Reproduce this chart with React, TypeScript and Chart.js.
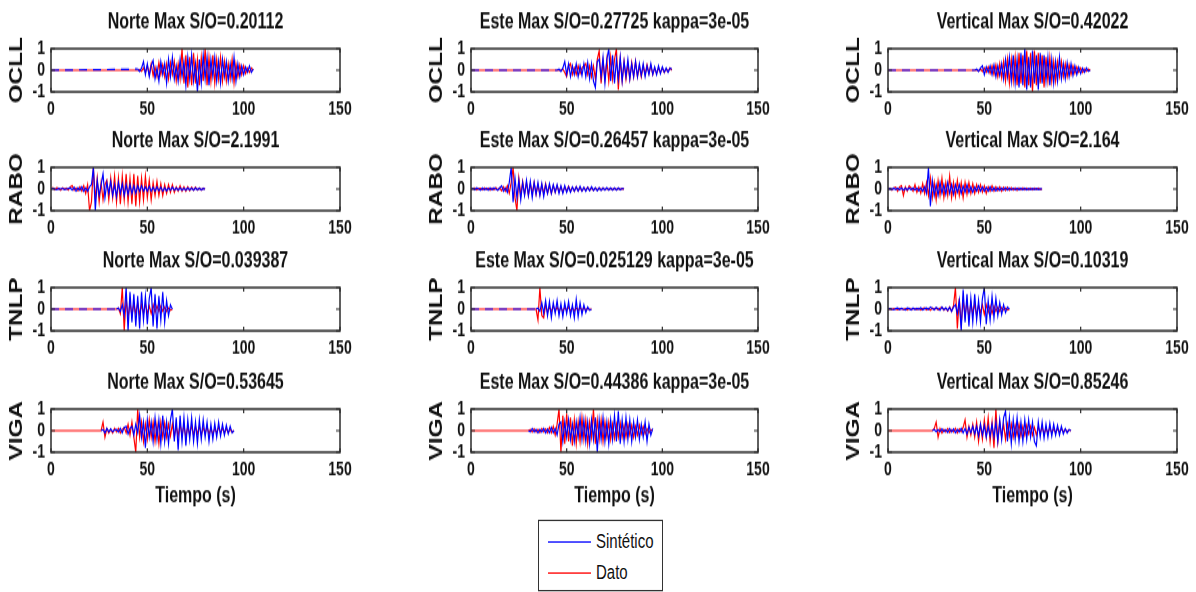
import React, { useEffect, useRef } from "react";
import { Chart, registerables } from "chart.js";

Chart.register(...registerables);

// ---------- DATA (1-s samples starting at the given start time) ----------
const stations = ["OCLL", "RABO", "TNLP", "VIGA"];
const components = ["Norte", "Este", "Vertical"];
const titles = [
  ["Norte Max S/O=0.20112", "Este Max S/O=0.27725 kappa=3e-05", "Vertical Max S/O=0.42022"],
  ["Norte Max S/O=2.1991", "Este Max S/O=0.26457 kappa=3e-05", "Vertical Max S/O=2.164"],
  ["Norte Max S/O=0.039387", "Este Max S/O=0.025129 kappa=3e-05", "Vertical Max S/O=0.10319"],
  ["Norte Max S/O=0.53645", "Este Max S/O=0.44386 kappa=3e-05", "Vertical Max S/O=0.85246"],
];
const xTicks = [0, 50, 100, 150];
const yTicks = [-1, 0, 1];
const xLabel = "Tiempo (s)";
const legendLabels = ["Sintético", "Dato"];

// OCLL (start 45 s)
const ocllStart = 45;
const norteOcllSin = [0.05, -0.05, 0.1, 0.4, -0.2, 0.3, -0.3, 0.2, 0.45, -0.4, 0.1, -0.5, 0.4, -0.2, 0.3, -0.6, 0.5, -0.3, 0.6, -0.4, 0.2, -0.5, 0.5, -0.3, 0.4, -0.7, 0.6, -0.4, 0.7, -0.5, 0.3, -1.0, 0.5, -0.6, 0.7, -0.4, 0.6, -0.7, 0.5, -0.3, 0.6, -0.5, 0.4, -0.6, 0.5, -0.3, 0.4, -0.5, 0.3, -0.4, 0.6, -0.5, 0.3, -0.3, 0.2, -0.2, 0.15, -0.1, 0.2, -0.1, 0.05];
const norteOcllDat = [0, 0.02, -0.05, 0.1, -0.1, 0.2, -0.2, 0.3, -0.25, 0.15, -0.3, 0.35, -0.2, 0.25, -0.3, 0.3, -0.4, 0.35, -0.2, 0.4, -0.5, 0.3, -0.4, 1.0, -0.6, 0.7, -0.8, 0.6, -0.7, 0.8, -0.6, 0.5, -0.7, 0.6, -0.5, 1.0, -0.7, 0.6, -0.5, 0.7, -0.6, 0.5, -0.4, 0.6, -0.5, 0.4, -0.5, 0.3, -0.4, 0.5, -0.6, 0.3, -0.3, 0.25, -0.2, 0.2, -0.15, 0.1, -0.1, 0.1, 0];
const esteOcllSin = [0, 0.05, -0.05, 0.1, 0.4, -0.2, 0.3, -0.3, 0.2, -0.2, 0.3, -0.3, 0.2, -0.25, 0.3, -0.3, 0.35, -0.4, 0.3, -0.5, -0.8, 0.4, 0.5, -0.3, 0.6, -0.6, 0.5, 1.0, -0.5, 0.7, -0.6, 0.5, -0.4, 0.6, -0.5, 0.4, -0.3, 0.5, -0.4, 0.3, -0.3, 0.4, -0.3, 0.3, -0.25, 0.3, -0.3, 0.2, -0.2, 0.3, -0.2, 0.15, -0.2, 0.2, -0.15, 0.15, -0.1, 0.1, -0.1, 0.1, 0.05];
const esteOcllDat = [0, 0.02, -0.02, 0.05, -0.1, -0.3, 0.2, 0.3, -0.2, 0.1, -0.2, 0.2, -0.15, 0.1, 0.2, 0.3, -0.2, 0.2, -0.3, 0.2, -0.4, 0.5, 0.9, -0.6, 0.4, -0.4, 0.5, -0.5, 0.6, -0.4, 0.5, 1.0, -0.9, 0.5, -0.5, 0.4, -0.4, 0.3, -0.4, 0.35, -0.3, 0.4, -0.3, 0.2, -0.3, 0.2, -0.2, 0.25, -0.15, 0.2, -0.2, 0.1, -0.15, 0.1, -0.1, 0.1, -0.1, 0.05, -0.05, 0.1, 0];
const vertOcllSin = [0, 0.05, -0.05, 0.1, 0.2, -0.2, 0.15, -0.1, 0.2, -0.2, 0.25, -0.3, 0.2, -0.25, 0.3, -0.4, 0.5, -0.3, 0.6, -0.5, 0.7, -0.6, 0.5, -0.8, 0.8, -0.7, 1.0, -0.9, 0.6, -0.8, 0.9, -0.6, 0.7, -0.9, 0.8, -0.6, 0.7, -0.5, 0.6, -0.7, 0.5, -0.6, 0.4, -0.5, 0.6, -0.4, 0.3, -0.4, 0.35, -0.3, 0.3, -0.25, 0.2, -0.2, 0.15, -0.15, 0.1, -0.1, 0.1, -0.05, 0];
const vertOcllDat = [0, 0.02, -0.03, 0.05, -0.05, 0.1, -0.1, 0.15, -0.15, 0.2, -0.2, 0.25, -0.3, 0.3, -0.35, 0.4, -0.5, 0.5, -0.6, 0.5, -0.5, 0.6, -0.7, 0.8, -0.6, 0.7, -0.8, 0.9, -0.7, 0.8, -1.0, 0.9, -0.7, 0.8, -0.6, 0.7, -0.8, 0.6, -0.5, 0.6, -0.5, 0.4, -0.5, 0.4, -0.3, 0.4, -0.3, 0.3, -0.3, 0.25, -0.2, 0.2, -0.15, 0.15, -0.1, 0.1, -0.1, 0.05, -0.05, 0.05, 0];

// RABO (start 0 s)
const raboStart = 0;
const norteRaboSin = [0, 0.03, 0, -0.03, 0.02, 0, 0.03, -0.02, 0, 0.02, 0.05, -0.05, 0.08, -0.1, 0.05, -0.05, 0.1, -0.1, 0.05, -0.1, 0.1, 0.2, 1.0, -1.0, 0.4, -0.3, 0.2, 0.7, -0.4, 0.3, -0.2, 0.35, -0.3, 0.2, -0.35, 0.3, -0.2, 0.25, -0.3, 0.2, -0.25, 0.2, -0.2, 0.15, -0.2, 0.15, -0.1, 0.15, -0.1, 0.1, -0.1, 0.12, -0.1, 0.08, -0.1, 0.1, -0.08, 0.08, -0.1, 0.05, -0.08, 0.05, -0.05, 0.08, -0.05, 0.05, -0.05, 0.05, -0.05, 0.03, -0.05, 0.05, -0.03, 0.03, -0.05, 0.05, -0.03, 0.03, -0.03, 0.02, 0];
const norteRaboDat = [0, 0.05, -0.03, 0.05, 0.02, -0.05, 0.05, 0, 0.03, -0.05, 0.1, 0.15, -0.05, 0.05, -0.08, 0.1, -0.1, 0.15, -0.2, 0.2, -1.0, -0.6, 1.0, -0.5, 0.5, -0.6, 0.3, -0.5, 0.2, 0.4, -0.5, 0.5, -0.4, 0.6, -0.6, 0.5, -0.7, 0.6, -0.5, 0.7, -0.6, 0.5, -0.7, 0.7, -0.8, 0.6, -0.6, 0.5, -0.5, 0.6, -0.4, 0.4, -0.5, 0.3, -0.3, 0.35, -0.3, 0.25, -0.3, 0.2, -0.2, 0.2, -0.15, 0.2, -0.15, 0.1, -0.1, 0.15, -0.1, 0.1, -0.1, 0.1, -0.08, 0.08, -0.05, 0.08, -0.05, 0.05, -0.05, 0.03, 0];
const esteRaboSin = [0, 0.03, -0.03, 0.05, 0, -0.05, 0.05, -0.03, 0.03, -0.05, 0.05, -0.03, 0.05, 0, -0.05, 0.05, 0.15, -0.1, 0.05, -0.15, 0.3, 1.0, -0.6, 0.5, -0.4, 0.4, -0.5, 0.3, -0.3, 0.4, -0.3, 0.35, -0.4, 0.3, -0.25, 0.3, -0.3, 0.25, -0.35, 0.2, -0.2, 0.25, -0.2, 0.2, -0.15, 0.2, -0.2, 0.15, -0.2, 0.15, -0.15, 0.1, -0.15, 0.1, -0.1, 0.1, -0.1, 0.12, -0.1, 0.08, -0.1, 0.08, -0.08, 0.1, -0.06, 0.06, -0.08, 0.05, -0.06, 0.05, -0.05, 0.06, -0.04, 0.05, -0.05, 0.04, -0.04, 0.05, -0.03, 0.03, 0];
const esteRaboDat = [0, 0.02, 0.04, -0.03, 0.02, 0.03, -0.04, 0.05, -0.02, 0.03, -0.05, 0.04, -0.03, 0.06, -0.04, 0.05, -0.08, 0.1, -0.1, 0.15, -0.2, 0.3, 1.0, -0.4, -1.0, 0.5, -0.3, 0.35, -0.25, 0.3, -0.3, 0.25, -0.2, 0.3, -0.25, 0.2, -0.25, 0.2, -0.2, 0.25, -0.2, 0.15, -0.2, 0.15, -0.15, 0.15, -0.12, 0.1, -0.15, 0.1, -0.1, 0.12, -0.1, 0.08, -0.1, 0.1, -0.08, 0.06, -0.08, 0.06, -0.06, 0.08, -0.05, 0.05, -0.06, 0.05, -0.04, 0.05, -0.05, 0.04, -0.04, 0.04, -0.03, 0.04, -0.03, 0.03, -0.03, 0.03, -0.02, 0.02, 0];
const vertRaboSin = [0, 0.02, -0.02, 0.03, -0.02, 0.03, -0.03, 0.05, -0.05, 0.03, -0.03, 0.05, -0.03, 0.05, -0.05, 0.05, -0.08, 0.05, -0.1, 0.1, -0.2, 1.0, -0.8, 0.4, -0.3, 0.2, -0.3, 0.3, -0.2, 0.2, -0.25, 0.3, -0.2, 0.2, -0.25, 0.2, -0.15, 0.2, -0.2, 0.15, -0.15, 0.2, -0.15, 0.1, -0.15, 0.1, -0.1, 0.15, -0.1, 0.1, -0.1, 0.08, -0.1, 0.1, -0.08, 0.06, -0.08, 0.05, -0.06, 0.05, -0.05, 0.06, -0.04, 0.05, -0.04, 0.04, -0.04, 0.03, -0.04, 0.03, -0.03, 0.03, -0.03, 0.02, -0.02, 0.02, -0.02, 0.02, -0.02, 0.01, 0];
const vertRaboDat = [0, 0.03, -0.05, 0.05, 0.08, -0.1, 0.1, 0.15, -0.3, 0.1, -0.1, 0.15, 0.05, -0.1, 0.2, -0.15, 0.1, -0.2, 0.25, -0.2, 0.3, -0.3, 0.5, -0.4, 0.3, -0.5, 0.4, -0.3, 0.5, -0.4, 0.3, -0.3, 0.6, -0.4, 0.3, -0.35, 0.4, -0.3, 0.3, -0.4, 0.3, -0.25, 0.3, -0.2, 0.25, -0.2, 0.2, -0.15, 0.2, -0.15, 0.15, -0.2, 0.1, -0.1, 0.15, -0.1, 0.1, -0.08, 0.1, -0.1, 0.08, -0.06, 0.08, -0.05, 0.06, -0.05, 0.05, -0.06, 0.04, -0.04, 0.05, -0.03, 0.04, -0.04, 0.03, -0.03, 0.03, -0.02, 0.03, -0.02, 0];

// TNLP (start 34 s for Norte/Este, 0 s for Vertical)
const tnlpStart = 34;
const norteTnlpSin = [0, 0.05, -0.1, 0.2, -0.3, 1.0, -1.0, 0.8, -0.6, 0.7, -0.8, 0.6, -0.9, 0.8, -0.5, 0.6, -0.7, 0.5, 1.0, -0.8, 0.7, -0.9, 0.6, -0.5, 0.8, -0.6, 0.4, -0.3, 0.2, 0];
const norteTnlpDat = [0, 0.05, -0.2, 1.0, -1.0, 0.5, -0.4, 0.3, -0.3, 0.25, -0.2, 0.3, -0.25, 0.2, -0.2, 0.25, -0.2, 0.15, -0.2, 0.2, -0.15, 0.15, -0.1, 0.15, -0.1, 0.1, -0.1, 0.05, -0.05, 0];
const esteTnlpSin = [0, 0.05, -0.1, 0.3, -0.2, 0.4, -0.3, 0.35, -0.4, 0.3, -0.2, 0.4, -0.3, 0.25, -0.35, 0.3, -0.2, 0.35, -0.3, 0.2, -0.4, 0.45, -0.35, 0.3, -0.25, 0.2, -0.15, 0.1, -0.05, 0];
const esteTnlpDat = [0, -0.5, 1.0, -0.3, -0.4, 0.2, -0.15, 0.1, -0.1, 0.15, -0.1, 0.1, -0.1, 0.08, -0.1, 0.08, -0.06, 0.1, -0.08, 0.05, -0.08, 0.06, -0.05, 0.08, -0.05, 0.05, -0.04, 0.03, -0.02, 0];
const vertTnlpStart = 0;
const vertTnlpSin = [0, 0.03, 0, -0.03, 0.02, 0.05, -0.02, 0.04, 0, -0.03, 0.05, 0.02, -0.03, 0.05, -0.02, 0.04, 0, 0.06, -0.03, 0.02, 0.05, -0.02, 0.1, 0.03, -0.03, 0.08, 0.02, -0.05, 0.1, -0.03, 0.06, -0.05, 0.08, -0.1, 0.1, 0.2, -0.2, 0.4, -1.0, 0.9, -0.6, 0.7, -0.8, 0.5, -0.6, 0.7, -0.5, 0.4, -0.6, 0.5, 1.0, -0.7, 0.4, -0.5, 0.6, -0.4, 0.5, -0.3, 0.3, -0.25, 0.2, -0.15, 0.1, 0];
const vertTnlpDat = [0, 0.02, -0.02, 0.03, 0, -0.03, 0.02, 0.03, -0.02, 0.02, -0.03, 0.03, -0.02, 0.02, 0.03, -0.02, 0.03, -0.03, 0.02, 0.05, -0.03, 0.03, -0.05, 0.05, 0, 0.05, -0.03, 0.05, 0.08, -0.05, 0.05, -0.08, 0.1, -0.1, 0.15, 1.0, -0.9, 0.5, -0.7, 0.4, -0.3, 0.35, -0.4, 0.3, -0.2, 0.25, -0.3, 0.2, -0.15, 0.2, -0.25, 0.2, -0.15, 0.15, -0.2, 0.15, -0.1, 0.1, -0.1, 0.08, -0.05, 0.05, -0.03, 0];

// VIGA
const norteVigaStart = 26;
const norteVigaSin = [0, 0.05, -0.1, 0.1, -0.05, 0.08, -0.05, 0.03, 0.05, -0.05, 0.1, -0.1, 0.15, 0.2, -0.15, 0.1, 0.2, -0.2, 0.3, -0.1, 0.7, -0.3, 0.4, -0.8, 0.5, -0.3, 0.4, -0.5, 0.6, -0.4, 0.5, -0.6, 0.7, -0.5, 0.4, -0.6, 0.5, 1.0, -0.5, 0.6, -0.9, 0.7, -0.5, 0.6, -0.7, 0.5, -0.4, 0.6, -0.5, 0.4, -0.6, 0.5, -0.4, 0.5, -0.3, 0.4, -0.5, 0.3, -0.4, 0.35, -0.3, 0.4, -0.25, 0.3, -0.2, 0.25, -0.15, 0.2, -0.1, 0];
const norteVigaDat = [0, 0.4, -0.3, 0.1, -0.1, 0.05, -0.1, 0.1, -0.05, 0.1, -0.1, 0.05, 0.15, -0.1, 0.3, -0.2, 0.4, -0.3, -1.0, 1.0, -0.3, 0.4, -0.5, 0.3, -0.4, 0.5, -0.3, 0.4, -0.5, 0.3, -0.6, 0.4, -0.3, 0.35, -0.3, 0.3, -0.25, 0.3, -0.3, 0.2, -0.25, 0.3, -0.2, 0.25, -0.3, 0.2, -0.2, 0.25, -0.2, 0.2, -0.15, 0.2, -0.2, 0.15, -0.15, 0.2, -0.15, 0.1, -0.15, 0.1, -0.1, 0.15, -0.1, 0.1, -0.1, 0.08, -0.08, 0.05, -0.05, 0];
const esteVigaStart = 30;
const esteVigaSin = [0, -0.05, 0.1, -0.05, 0.05, -0.1, 0.05, -0.05, 0.1, -0.1, 0.08, -0.1, 0.15, -0.1, 0.1, -0.2, 0.3, 0.4, -0.5, 0.4, -0.3, 0.5, -0.4, 0.3, -0.5, 0.4, -0.3, 0.6, -0.4, 0.5, -0.5, 0.4, -0.6, 0.5, -0.4, 0.6, -1.0, 0.5, -0.4, 0.6, -0.5, 0.4, -0.6, 0.5, -0.4, 0.7, -0.5, 0.9, -0.6, 0.5, -0.5, 0.6, -0.4, 0.5, -0.5, 0.4, -0.3, 0.5, -0.4, 0.3, -0.3, 0.4, -0.5, 0.3, -0.2, 0.1];
const esteVigaDat = [0, 0.05, -0.05, 0.08, -0.05, 0.05, -0.08, 0.1, -0.05, 0.08, -0.1, 0.15, -0.1, 0.2, -0.2, 0.3, 1.0, -1.0, 0.7, -0.6, 0.8, -0.5, 0.6, -0.7, 0.5, -0.6, 0.4, -0.5, 0.6, -0.4, 0.5, -0.6, 0.4, -0.3, 1.0, -0.6, 0.5, -0.4, 0.5, -0.5, 0.4, -0.3, 0.4, -0.4, 0.3, -0.35, 0.3, -0.3, 0.35, -0.3, 0.25, -0.3, 0.3, -0.2, 0.25, -0.3, 0.2, -0.2, 0.25, -0.15, 0.2, -0.15, 0.1, -0.1, 0.05, 0];
const vertVigaStart = 23;
const vertVigaSin = [0, 0.05, -0.05, 0.05, -0.05, 0.08, -0.05, 0.05, -0.08, 0.1, -0.05, 0.08, -0.1, 0.05, -0.05, 0.1, -0.1, 0.1, -0.15, 0.15, -0.1, 0.2, -0.15, 0.2, -0.25, 0.3, -0.2, 0.25, -0.3, 0.2, -0.25, 0.3, -0.3, 0.4, -0.5, 0.5, -0.4, 0.6, 0.9, -0.5, 0.6, -0.6, 0.5, -0.4, 0.6, -0.5, 0.4, -0.5, 0.5, -0.4, 0.5, -0.3, 0.4, -0.5, -0.7, 0.4, -0.3, 0.4, -0.35, 0.3, -0.3, 0.35, -0.25, 0.3, -0.2, 0.25, -0.2, 0.2, -0.15, 0.1, -0.1, 0.05, 0];
const vertVigaDat = [0, 0.1, 0.4, -0.3, 0.1, -0.1, 0.05, -0.05, 0.1, -0.08, 0.05, -0.05, 0.1, -0.1, 0.08, -0.05, 0.15, 0.5, -0.3, 0.2, -0.2, 0.3, -0.3, 0.4, -0.5, 0.3, -0.4, 0.5, -0.3, 0.6, -0.5, 0.4, -0.8, 1.0, -0.5, 0.4, -0.3, 0.3, -0.4, 0.3, -0.25, 0.3, -0.3, 0.25, -0.2, 0.3, -0.25, 0.2, -0.2, 0.25, -0.15, 0.2, -0.2, 0.15, -0.2, 0.15, -0.1, 0.15, -0.15, 0.1, -0.1, 0.12, -0.1, 0.08, -0.1, 0.08, -0.05, 0.08, -0.05, 0.05, -0.05, 0.03, 0];

// ---------- PANEL TABLE ----------
type Trace = { start: number; vals: number[]; lead: "solid" | "dash" | "none" };
type PanelDef = { sin: Trace; dat: Trace };

const panelTraces: PanelDef[][] = [
  [
    { sin: { start: ocllStart, vals: norteOcllSin, lead: "dash" }, dat: { start: ocllStart, vals: norteOcllDat, lead: "solid" } },
    { sin: { start: ocllStart, vals: esteOcllSin, lead: "dash" }, dat: { start: ocllStart, vals: esteOcllDat, lead: "solid" } },
    { sin: { start: ocllStart, vals: vertOcllSin, lead: "dash" }, dat: { start: ocllStart, vals: vertOcllDat, lead: "solid" } },
  ],
  [
    { sin: { start: raboStart, vals: norteRaboSin, lead: "none" }, dat: { start: raboStart, vals: norteRaboDat, lead: "none" } },
    { sin: { start: raboStart, vals: esteRaboSin, lead: "none" }, dat: { start: raboStart, vals: esteRaboDat, lead: "none" } },
    { sin: { start: raboStart, vals: vertRaboSin, lead: "none" }, dat: { start: raboStart, vals: vertRaboDat, lead: "none" } },
  ],
  [
    { sin: { start: tnlpStart, vals: norteTnlpSin, lead: "dash" }, dat: { start: tnlpStart, vals: norteTnlpDat, lead: "solid" } },
    { sin: { start: tnlpStart, vals: esteTnlpSin, lead: "dash" }, dat: { start: tnlpStart, vals: esteTnlpDat, lead: "solid" } },
    { sin: { start: vertTnlpStart, vals: vertTnlpSin, lead: "none" }, dat: { start: vertTnlpStart, vals: vertTnlpDat, lead: "none" } },
  ],
  [
    { sin: { start: norteVigaStart, vals: norteVigaSin, lead: "none" }, dat: { start: norteVigaStart, vals: norteVigaDat, lead: "solid" } },
    { sin: { start: esteVigaStart, vals: esteVigaSin, lead: "none" }, dat: { start: esteVigaStart, vals: esteVigaDat, lead: "solid" } },
    { sin: { start: vertVigaStart, vals: vertVigaSin, lead: "none" }, dat: { start: vertVigaStart, vals: vertVigaDat, lead: "solid" } },
  ],
];

// ---------- LAYOUT ----------
// The reference figure is stretched vertically; everything is laid out in
// unstretched units and the whole figure is scaled by STRETCH on the y axis.
const STRETCH = 1.35;
const FONT = '"Liberation Sans", Arial, sans-serif';
const colLeft = [51, 471, 888];
const colWidth = [289, 287, 289];
const rowTop = [36, 124, 213, 303];
const BOX_H = 32;
const Y_AXIS_W = 51;
const TITLE_H = 35;
const RIGHT_PAD = 18;
const BLUE = "#0000ff";
const RED = "#ff0000";
const INK = "#111";

function toPoints(t: Trace) {
  const pts = t.vals.map((v, i) => ({ x: t.start + i, y: v }));
  if (t.lead !== "none" && t.start > 0) pts.unshift({ x: 0, y: 0 });
  return pts;
}

const boxPlugin = {
  id: "matlabBox",
  afterDatasetsDraw(chart: any) {
    const { ctx, chartArea } = chart;
    const { left, top, right, bottom } = chartArea;
    const xs = chart.scales.x;
    const ys = chart.scales.y;
    ctx.save();
    ctx.strokeStyle = "#2b2b2b";
    ctx.lineWidth = 1.5;
    ctx.strokeRect(left, top, right - left, bottom - top);
    ctx.lineWidth = 1.2;
    ctx.beginPath();
    for (const v of xTicks) {
      const px = xs.getPixelForValue(v);
      ctx.moveTo(px, bottom);
      ctx.lineTo(px, bottom - 3);
      ctx.moveTo(px, top);
      ctx.lineTo(px, top + 3);
    }
    for (const v of yTicks) {
      const py = ys.getPixelForValue(v);
      ctx.moveTo(left, py);
      ctx.lineTo(left + 4, py);
      ctx.moveTo(right, py);
      ctx.lineTo(right - 4, py);
    }
    ctx.stroke();
    ctx.restore();
  },
};

function Panel({ row, col }: { row: number; col: number }) {
  const ref = useRef<HTMLCanvasElement>(null);
  const isBottom = row === stations.length - 1;
  const bottomH = isBottom ? 50 : 23;
  const w = Y_AXIS_W + colWidth[col] + RIGHT_PAD;
  const h = TITLE_H + BOX_H + bottomH;
  const left = colLeft[col] - Y_AXIS_W;
  const top = rowTop[row] - TITLE_H;

  useEffect(() => {
    const def = panelTraces[row][col];
    const dashSin = def.sin.lead === "dash";
    const sinStart = def.sin.start;
    const chart = new Chart(ref.current as HTMLCanvasElement, {
      type: "line",
      data: {
        datasets: [
          {
            label: legendLabels[0],
            data: toPoints(def.sin),
            borderColor: BLUE,
            borderWidth: 1.2,
            pointRadius: 0,
            fill: false,
            tension: 0,
            segment: {
              borderDash: (c: any) => (dashSin && c.p1.parsed.x <= sinStart ? [8, 6] : undefined),
            },
          },
          {
            label: legendLabels[1],
            data: toPoints(def.dat),
            borderColor: RED,
            borderWidth: 1.2,
            pointRadius: 0,
            fill: false,
            tension: 0,
          },
        ],
      },
      options: {
        animation: false,
        responsive: false,
        devicePixelRatio: 1,
        events: [],
        layout: { padding: { left: 0, right: RIGHT_PAD, top: 0, bottom: 0 } },
        plugins: {
          legend: { display: false },
          tooltip: { enabled: false },
          title: {
            display: true,
            text: titles[row][col],
            fullSize: false,
            color: INK,
            font: { family: FONT, size: 16, weight: "bold", lineHeight: 1.2 },
            padding: { top: 6.1, bottom: 9.7 },
          },
        },
        scales: {
          x: {
            type: "linear",
            min: 0,
            max: 150,
            afterBuildTicks: (s: any) => {
              s.ticks = xTicks.map((v) => ({ value: v }));
            },
            ticks: {
              color: INK,
              font: { family: FONT, size: 14, weight: "bold", lineHeight: 1.2 },
              padding: 4.9,
              maxRotation: 0,
              autoSkip: false,
            },
            grid: { display: false, drawTicks: false },
            border: { display: false },
            title: {
              display: isBottom,
              text: xLabel,
              color: INK,
              font: { family: FONT, size: 16, weight: "bold", lineHeight: 1.2 },
              padding: { top: 0, bottom: 7.8 },
            },
            afterFit: (s: any) => {
              s.height = bottomH;
            },
          },
          y: {
            type: "linear",
            min: -1,
            max: 1,
            afterBuildTicks: (s: any) => {
              s.ticks = yTicks.map((v) => ({ value: v }));
            },
            ticks: {
              color: INK,
              font: { family: FONT, size: 14, weight: "bold" },
              padding: 6,
              autoSkip: false,
            },
            grid: { display: false, drawTicks: false },
            border: { display: false },
            title: {
              display: true,
              text: stations[row],
              color: INK,
              font: { family: FONT, size: 18, weight: "bold", lineHeight: 1.2 },
              padding: { top: 6.2, bottom: 0 },
            },
            afterFit: (s: any) => {
              s.width = Y_AXIS_W;
            },
          },
        },
      },
      plugins: [boxPlugin],
    } as any);
    return () => chart.destroy();
  }, [row, col]);

  return (
    <canvas
      ref={ref}
      width={w}
      height={h}
      style={{ position: "absolute", left, top, width: w, height: h }}
    />
  );
}

function Legend() {
  const item = (color: string, text: string, cy: number) => (
    <div style={{ position: "absolute", left: 0, top: cy - 9, height: 18, width: "100%" }}>
      <div style={{ position: "absolute", left: 9, top: 8.5, width: 43, height: 1.4, background: color }} />
      <div
        style={{
          position: "absolute",
          left: 57,
          top: 0,
          lineHeight: "18px",
          fontSize: 15,
          fontFamily: FONT,
          color: INK,
          whiteSpace: "nowrap",
        }}
      >
        {text}
      </div>
    </div>
  );
  return (
    <div
      style={{
        position: "absolute",
        left: 538,
        top: 385,
        width: 123,
        height: 51,
        border: "1.3px solid #333",
        background: "#fff",
      }}
    >
      {item(BLUE, legendLabels[0], 15)}
      {item(RED, legendLabels[1], 38)}
    </div>
  );
}

export default function App() {
  return (
    <div
      style={{
        position: "absolute",
        left: 0,
        top: 0,
        width: 1196,
        height: Math.floor(592 / STRETCH),
        background: "#fff",
        transform: `scaleY(${STRETCH})`,
        transformOrigin: "0 0",
      }}
    >
      {stations.map((_, r) =>
        components.map((__, c) => <Panel key={`${r}-${c}`} row={r} col={c} />)
      )}
      <Legend />
    </div>
  );
}
